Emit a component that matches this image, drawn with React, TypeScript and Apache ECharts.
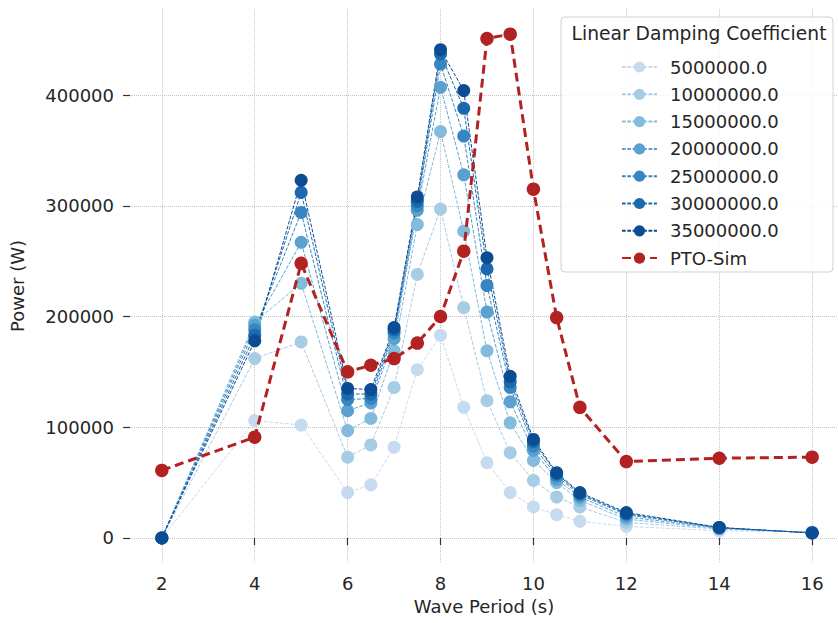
import React, { useEffect, useRef } from "react";
import * as echarts from "echarts";

const wavePeriods = [2, 4, 5, 6, 6.5, 7, 7.5, 8, 8.5, 9, 9.5, 10, 10.5, 11, 12, 14, 16];

const damping5M = [0, 106000, 102000, 41000, 48000, 82000, 152000, 183000, 118000, 68000, 41000, 28000, 21000, 15000, 10500, 6500, 5500];
const damping10M = [0, 162000, 177000, 73000, 84000, 136000, 238000, 297000, 208000, 124000, 77000, 52000, 37000, 28000, 14000, 8000, 5000];
const damping15M = [0, 195000, 230000, 97000, 108000, 169000, 283000, 367000, 277000, 169000, 104000, 70000, 50000, 34000, 17000, 8500, 5000];
const damping20M = [0, 192000, 267000, 115000, 122000, 180000, 296000, 407000, 328000, 204000, 123000, 79000, 53000, 37000, 19000, 9000, 4800];
const damping25M = [0, 188000, 294000, 125000, 126000, 185000, 300000, 428000, 363000, 228000, 136000, 83000, 56000, 39000, 21000, 9200, 4600];
const damping30M = [0, 183000, 312000, 130000, 130000, 188000, 304000, 437000, 388000, 243000, 141000, 87000, 58000, 40000, 22000, 9400, 4500];
const damping35M = [0, 178000, 323000, 135000, 134000, 190000, 308000, 441000, 404000, 253000, 146000, 89000, 59000, 41000, 23000, 9500, 4500];

const ptoSim = [61000, 91000, 248000, 150000, 156000, 162000, 176000, 200000, 259000, 451000, 455000, 315000, 199000, 118000, 69000, 72000, 73000];

const dampingLabels = ["5000000.0", "10000000.0", "15000000.0", "20000000.0", "25000000.0", "30000000.0", "35000000.0"];
const dampingSeries = [damping5M, damping10M, damping15M, damping20M, damping25M, damping30M, damping35M];
const blueColors = ["#c6dbef", "#a6cde4", "#82bbdb", "#5aa1d0", "#3686c1", "#1b69af", "#0b4c93"];
const ptoLabel = "PTO-Sim";
const ptoColor = "#b22222";
const legendTitle = "Linear Damping Coefficient";

const xTicks = [2, 4, 6, 8, 10, 12, 14, 16];
const yTicks = [0, 100000, 200000, 300000, 400000];

const FONT = "DejaVu Sans";

export default function App() {
  const ref = useRef<HTMLDivElement>(null);
  useEffect(() => {
    if (!ref.current) return;
    const chart = echarts.init(ref.current, undefined, { renderer: "svg" });
    const toPairs = (vals: number[]) => wavePeriods.map((x, i) => [x, vals[i]]);

    const blue = dampingSeries.map((vals, k) => ({
      name: dampingLabels[k],
      type: "line",
      data: toPairs(vals),
      symbol: "circle",
      symbolSize: 13,
      itemStyle: { color: blueColors[k] },
      lineStyle: { color: blueColors[k], width: 1, type: [3.7, 1.6] },
      z: 2,
    }));

    const option: any = {
      animation: false,
      backgroundColor: "#ffffff",
      grid: { left: 126, right: 0, top: 9, bottom: 60 },
      xAxis: {
        type: "value",
        min: 1.315,
        max: 16.557,
        name: "Wave Period (s)",
        nameLocation: "middle",
        nameGap: 34,
        nameTextStyle: { fontFamily: FONT, fontSize: 18, color: "#262626" },
        axisLine: { show: false },
        axisTick: { show: true, length: 7, customValues: xTicks, lineStyle: { color: "#333", width: 1.2 } },
        axisLabel: { customValues: xTicks, margin: 11, fontFamily: FONT, fontSize: 18, color: "#262626" },
        splitLine: { show: true, lineStyle: { type: "dotted", color: "#c4c4c4", width: 1 } },
      },
      yAxis: {
        type: "value",
        min: -22600,
        max: 477700,
        name: "Power (W)",
        nameLocation: "middle",
        nameGap: 104,
        nameRotate: 90,
        nameTextStyle: { fontFamily: FONT, fontSize: 18, color: "#262626" },
        axisLine: { show: false },
        axisTick: { show: true, length: 7, customValues: yTicks, lineStyle: { color: "#333", width: 1.2 } },
        axisLabel: { customValues: yTicks, margin: 16, fontFamily: FONT, fontSize: 18, color: "#262626", formatter: (v: number) => String(Math.round(v)) },
        splitLine: { show: true, lineStyle: { type: "dotted", color: "#c4c4c4", width: 1 } },
      },
      legend: {
        orient: "vertical",
        left: 616,
        top: 53,
        itemWidth: 35,
        itemHeight: 14,
        itemGap: 9.3,
        data: [...dampingLabels, ptoLabel],
        textStyle: { fontFamily: FONT, fontSize: 18, color: "#262626", lineHeight: 18, padding: [0, 0, 0, 8] },
        z: 5,
      },
      graphic: [
        {
          type: "rect",
          z: 3,
          shape: { x: 561, y: 17, width: 272, height: 255, r: 4 },
          style: { fill: "rgba(255,255,255,0.85)", stroke: "#d0d0d0", lineWidth: 1 },
        },
        {
          type: "text",
          z: 4,
          x: 699,
          y: 33,
          style: { text: legendTitle, fontFamily: FONT, fontSize: 18.7, fill: "#262626", align: "center", verticalAlign: "middle" },
        },
      ],
      series: [
        ...blue,
        {
          name: ptoLabel,
          type: "line",
          data: toPairs(ptoSim),
          symbol: "circle",
          symbolSize: 13.5,
          itemStyle: { color: ptoColor },
          lineStyle: { color: ptoColor, width: 3, type: [9, 5] },
          z: 3,
        },
      ],
    };
    chart.setOption(option);
    return () => chart.dispose();
  }, []);
  return <div ref={ref} style={{ width: 838, height: 623, position: "absolute", left: 0, top: 0 }} />;
}
